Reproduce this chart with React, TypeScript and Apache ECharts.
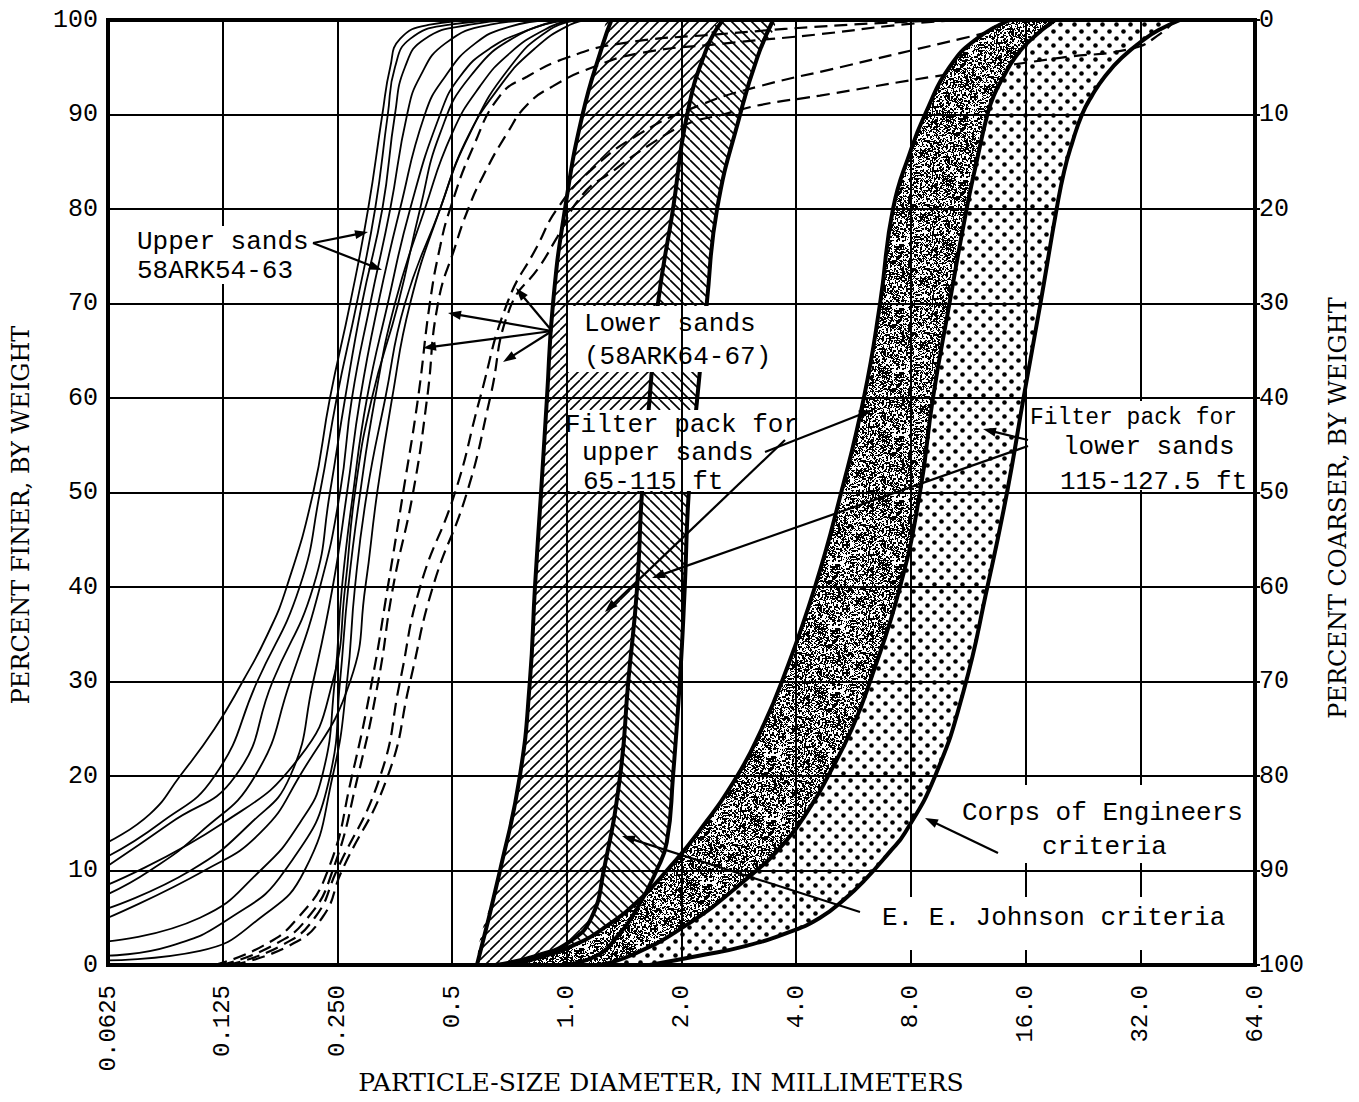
import React, { useEffect, useRef } from "react";
import * as echarts from "echarts";

// ---------- axis tick labels ----------
const X_TICK_LABELS = ["0.0625", "0.125", "0.250", "0.5", "1.0", "2.0", "4.0", "8.0", "16.0", "32.0", "64.0"];
const X_MIN_MM = 0.0625;
const X_MAX_MM = 64;

// ---------- Upper sands 58ARK54-63 (solid)  [diameter mm, percent finer] ----------
const upperSandA = [[0.0625, 13], [0.0806, 16], [0.0966, 20], [0.119, 25], [0.141, 30], [0.164, 35], [0.184, 40], [0.216, 50], [0.239, 60], [0.27, 70], [0.301, 80], [0.328, 90], [0.344, 95], [0.365, 98], [0.437, 99.5], [0.592, 100]];
const upperSandB = [[0.0625, 11.5], [0.0856, 15], [0.119, 20], [0.154, 30], [0.199, 40], [0.225, 50], [0.249, 60], [0.281, 70], [0.314, 80], [0.339, 90], [0.354, 95], [0.388, 98], [0.493, 99.5], [0.709, 100]];
const upperSandC = [[0.0625, 10.5], [0.0909, 15], [0.135, 20], [0.169, 30], [0.216, 40], [0.239, 50], [0.262, 60], [0.29, 70], [0.328, 80], [0.354, 90], [0.376, 95], [0.424, 98], [0.557, 99.5], [0.753, 100]];
const upperSandD = [[0.0625, 7.5], [0.0806, 10], [0.109, 14], [0.152, 20], [0.188, 30], [0.225, 40], [0.254, 50], [0.273, 60], [0.305, 70], [0.344, 80], [0.381, 90], [0.412, 94], [0.479, 97.5], [0.629, 99.5], [0.851, 100]];
const upperSandE = [[0.0625, 6], [0.103, 10], [0.148, 15], [0.188, 20], [0.216, 30], [0.243, 40], [0.265, 50], [0.287, 60], [0.32, 70], [0.365, 80], [0.424, 90], [0.479, 94], [0.574, 97.5], [0.709, 99.3], [0.903, 100]];
const upperSandF = [[0.0625, 2.5], [0.109, 5], [0.157, 10], [0.199, 15], [0.228, 20], [0.246, 30], [0.257, 40], [0.275, 50], [0.299, 60], [0.339, 70], [0.388, 80], [0.465, 90], [0.524, 94], [0.629, 97], [0.8, 99], [0.959, 100]];
const upperSandG = [[0.0625, 1], [0.0909, 2], [0.131, 5], [0.182, 10], [0.239, 20], [0.254, 30], [0.267, 40], [0.287, 50], [0.314, 60], [0.354, 70], [0.424, 80], [0.5, 88], [0.592, 93], [0.709, 96.5], [0.877, 99], [1.02, 100]];
const upperSandH = [[0.0625, 0.5], [0.109, 1.5], [0.157, 5], [0.205, 10], [0.243, 20], [0.265, 30], [0.278, 40], [0.299, 50], [0.334, 60], [0.376, 70], [0.465, 80], [0.54, 87], [0.668, 93], [0.825, 97], [1.02, 99.5], [1.15, 100]];
const upperSandI = [[0.0625, 5], [0.112, 10], [0.157, 14], [0.199, 20], [0.27, 30], [0.296, 40], [0.318, 50], [0.348, 60], [0.388, 70], [0.465, 80], [0.557, 88], [0.709, 95], [0.903, 99], [1.08, 100]];
const upperSandJ = [[0.0625, 8.5], [0.125, 15], [0.199, 22], [0.243, 30], [0.262, 40], [0.278, 50], [0.308, 60], [0.361, 70], [0.412, 80], [0.465, 88], [0.557, 94], [0.753, 98.5], [1.02, 100]];

// ---------- Lower sands 58ARK64-67 (dashed) ----------
const lowerSandA = [[0.119, 0], [0.159, 2], [0.197, 5], [0.236, 10], [0.273, 20], [0.308, 30], [0.339, 40], [0.372, 50], [0.407, 60], [0.437, 70], [0.465, 76], [0.494, 80], [0.567, 86.5], [0.668, 92], [0.786, 94], [1.0, 96], [1.38, 97.5], [2.52, 98.5], [5.54, 99.5], [10.1, 100]];
const lowerSandB = [[0.124, 0], [0.168, 2], [0.209, 5], [0.243, 10], [0.283, 20], [0.32, 30], [0.35, 40], [0.395, 50], [0.43, 60], [0.459, 70], [0.509, 76], [0.551, 80], [0.603, 83.5], [0.697, 88], [0.786, 91], [0.92, 93], [1.17, 95], [1.56, 96.5], [2.57, 97.5], [4.62, 98.5], [7.49, 99.5], [10.8, 100]];
const lowerSandC = [[0.129, 0], [0.177, 2], [0.218, 5], [0.249, 10], [0.324, 20], [0.365, 30], [0.412, 40], [0.509, 50], [0.592, 60], [0.697, 70], [0.835, 76], [0.943, 80], [1.15, 84], [1.56, 88], [2.24, 91], [3.21, 93], [5.22, 95], [7.49, 96.5], [10.8, 98], [13.7, 99], [17.5, 100]];
const lowerSandD = [[0.133, 0], [0.186, 2], [0.228, 5], [0.257, 10], [0.339, 20], [0.388, 30], [0.445, 40], [0.547, 50], [0.629, 60], [0.709, 69.5], [0.851, 74], [0.943, 77], [1.1, 81.5], [1.32, 84], [1.68, 87], [2.07, 89], [2.57, 90], [3.21, 91], [4.62, 92], [9.14, 94], [19.7, 96], [30.6, 97], [36.0, 98.5], [39.5, 100]];

// ---------- E. E. Johnson criteria (hatched bands) ----------
const johnsonUpperFine = [[0.581, 0], [0.668, 10], [0.753, 20], [0.8, 30], [0.825, 40], [0.856, 50], [0.887, 60], [0.92, 70], [0.989, 80], [1.1, 90], [1.245, 97.5], [1.31, 100]];
const johnsonMiddle = [[0.648, 0], [0.835, 1], [1.02, 2.5], [1.16, 5], [1.25, 10], [1.38, 20], [1.45, 30], [1.53, 40], [1.575, 50], [1.65, 60], [1.735, 70], [1.9, 80], [2.07, 90], [2.33, 97], [2.57, 100]];
const johnsonLowerCoarse = [[0.989, 0], [1.2, 1], [1.355, 3], [1.53, 6], [1.72, 10], [1.83, 13], [1.9, 20], [1.98, 30], [2.04, 40], [2.09, 50], [2.2, 60], [2.33, 70], [2.48, 80], [2.85, 90], [3.16, 96], [3.48, 100]];

// ---------- Corps of Engineers criteria (stippled bands) ----------
const corpsUpperFine = [[0.689, 0], [0.8, 0.5], [1.03, 2], [1.26, 4], [1.56, 7], [1.83, 10], [2.21, 14], [2.8, 20], [3.25, 25], [3.67, 30], [4.48, 40], [5.25, 50], [6.02, 60], [6.64, 70], [7.18, 80], [7.96, 86], [8.71, 90], [10.1, 95], [11.9, 98], [14.6, 100]];
const corpsMiddle = [[1.22, 0], [1.47, 1], [2.02, 4], [2.94, 9], [3.74, 13], [4.4, 17], [4.85, 20], [5.6, 25], [6.25, 30], [7.49, 40], [8.45, 50], [9.14, 60], [10.1, 70], [11.2, 80], [11.9, 85], [12.7, 90], [13.2, 92], [14.0, 94], [15.0, 96], [16.6, 98], [19.1, 100]];
const corpsLowerCoarse = [[1.65, 0], [2.24, 1], [2.94, 2], [3.85, 3.5], [4.62, 5], [5.37, 7], [6.06, 9], [7.05, 12], [7.72, 14], [9.26, 20], [11.0, 29], [12.7, 40], [14.3, 50], [15.8, 60], [17.5, 70], [19.3, 80], [20.2, 84], [21.2, 87], [22.5, 90], [23.9, 92], [25.8, 94], [28.6, 96], [32.9, 98], [36.0, 99], [40.7, 100]];

const UPPER_SANDS = [upperSandA, upperSandB, upperSandC, upperSandD, upperSandE, upperSandF, upperSandG, upperSandH, upperSandI, upperSandJ];
const LOWER_SANDS = [lowerSandA, lowerSandB, lowerSandC, lowerSandD];

// ---------- helpers ----------
const MONO = '"Liberation Mono", "DejaVu Sans Mono", monospace';
const SERIF = '"DejaVu Serif", "Liberation Serif", serif';
const SMOOTH = 0.5;

const toXY = (pts: number[][]) => pts.map(([mm, p]) => [Math.log2(mm), p]);

function makeCanvas(w: number, h: number) {
  const c = document.createElement("canvas");
  c.width = w;
  c.height = h;
  const ctx = c.getContext("2d") as CanvasRenderingContext2D;
  ctx.fillStyle = "#fff";
  ctx.fillRect(0, 0, w, h);
  return { c, ctx };
}

function hatchPattern(size: number, dir: number) {
  const { c, ctx } = makeCanvas(size, size);
  ctx.strokeStyle = "#000";
  ctx.lineWidth = 1.6;
  ctx.beginPath();
  for (const k of [-size, 0, size]) {
    if (dir > 0) {
      ctx.moveTo(k, size);
      ctx.lineTo(k + size, 0);
    } else {
      ctx.moveTo(k, 0);
      ctx.lineTo(k + size, size);
    }
  }
  ctx.stroke();
  return { image: c.toDataURL(), repeat: "repeat", imageWidth: size, imageHeight: size };
}

function speckleTexture(size: number) {
  const { c, ctx } = makeCanvas(size, size);
  const img = ctx.createImageData(size, size);
  const frac = (v: number) => v - Math.floor(v);
  for (let y = 0; y < size; y++) {
    for (let x = 0; x < size; x++) {
      const a = frac(Math.sin(x * 12.9898 + y * 78.233) * 43758.5453);
      const b = frac(Math.sin(Math.floor(x / 2) * 39.346 + Math.floor(y / 2) * 11.135) * 24634.6345);
      const v = 0.5 * a + 0.5 * b < 0.5 ? 0 : 255;
      const i = (y * size + x) * 4;
      img.data[i] = v;
      img.data[i + 1] = v;
      img.data[i + 2] = v;
      img.data[i + 3] = 255;
    }
  }
  ctx.putImageData(img, 0, 0);
  return { image: c.toDataURL(), repeat: "repeat", imageWidth: size, imageHeight: size };
}

function dotPattern(size: number) {
  const { c, ctx } = makeCanvas(size, size);
  ctx.fillStyle = "#000";
  for (const [x, y] of [[size / 4, size / 4], [(3 * size) / 4, (3 * size) / 4]]) {
    ctx.beginPath();
    ctx.arc(x, y, 2.3, 0, Math.PI * 2);
    ctx.fill();
  }
  return { image: c.toDataURL(), repeat: "repeat", imageWidth: size, imageHeight: size };
}

function bandSeries(name: string, left: number[][], right: number[][], fill: any, z: number) {
  const pts = [...toXY(left), ...toXY(right).reverse()];
  return {
    name,
    type: "custom",
    coordinateSystem: "cartesian2d",
    xAxisIndex: 0,
    yAxisIndex: 0,
    z,
    clip: true,
    silent: true,
    data: pts,
    encode: { x: 0, y: 1 },
    renderItem: (params: any, api: any) => {
      if (params.dataIndex !== 0) return null;
      return {
        type: "polygon",
        shape: { points: pts.map((p) => api.coord(p)), smooth: SMOOTH },
        style: { fill, stroke: "none" },
      };
    },
  };
}

function curveSeries(name: string, pts: number[][], width: number, type: any, z: number) {
  return {
    name,
    type: "line",
    data: toXY(pts),
    symbol: "none",
    showSymbol: false,
    smooth: SMOOTH,
    silent: true,
    z,
    lineStyle: { color: "#000", width, type },
  };
}

function arrow(x1: number, y1: number, x2: number, y2: number) {
  const dx = x2 - x1;
  const dy = y2 - y1;
  const L = Math.hypot(dx, dy);
  const ux = dx / L;
  const uy = dy / L;
  const hl = 13;
  const hw = 4.5;
  const bx = x2 - ux * hl;
  const by = y2 - uy * hl;
  return [
    { type: "line", z: 12, silent: true, shape: { x1, y1, x2: bx + ux * 2, y2: by + uy * 2 }, style: { stroke: "#000", lineWidth: 2.2 } },
    {
      type: "polygon",
      z: 12,
      silent: true,
      shape: { points: [[x2, y2], [bx - uy * hw, by + ux * hw], [bx + uy * hw, by - ux * hw]] },
      style: { fill: "#000" },
    },
  ];
}

function label(text: string, x: number, y: number, size = 26, family = MONO, align = "left", rotation = 0) {
  return {
    type: "text",
    z: 13,
    silent: true,
    x,
    y,
    rotation,
    style: {
      text,
      fill: "#000",
      font: `${size}px ${family}`,
      align,
      verticalAlign: "middle",
      textAlign: align,
      textVerticalAlign: "middle",
    },
  };
}

function box(x: number, y: number, w: number, h: number, z: number) {
  return { type: "rect", z, silent: true, shape: { x, y, width: w, height: h }, style: { fill: "#fff" } };
}

function buildOption() {
  const hatchUp = hatchPattern(10, 1);
  const hatchDown = hatchPattern(10, -1);
  const speckle = speckleTexture(64);
  const dots = dotPattern(14);

  const lnMin = Math.log2(X_MIN_MM);
  const lnMax = Math.log2(X_MAX_MM);

  const series: any[] = [
    bandSeries("Johnson upper", johnsonUpperFine, johnsonMiddle, hatchUp, 1),
    bandSeries("Johnson lower", johnsonMiddle, johnsonLowerCoarse, hatchDown, 1),
    bandSeries("Corps lower", corpsMiddle, corpsLowerCoarse, dots, 1),
  ];
  UPPER_SANDS.forEach((s, i) => series.push(curveSeries("Upper sand " + i, s, 1.8, "solid", 2)));
  LOWER_SANDS.forEach((s, i) => series.push(curveSeries("Lower sand " + i, s, 2.2, [13, 7], 2)));
  series.push(bandSeries("Corps upper", corpsUpperFine, corpsMiddle, speckle, 3));
  [johnsonUpperFine, johnsonMiddle, johnsonLowerCoarse, corpsUpperFine, corpsMiddle, corpsLowerCoarse].forEach((s, i) =>
    series.push(curveSeries("Boundary " + i, s, 4, "solid", 4))
  );

  const elements: any[] = [
    // boxes that hide the grid
    box(133, 226, 183, 58, 10),
    box(1028, 401, 224, 89, 10),
    box(950, 785, 302, 78, 10),
    box(868, 897, 384, 53, 10),
    // boxes that only hide the hatching
    box(567, 306, 233, 66, 7),
    box(566, 410, 232, 81, 7),

    label("Upper sands", 137, 242),
    label("58ARK54-63", 137, 271),
    label("Lower sands", 584, 324),
    label("(58ARK64-67)", 584, 357),
    label("Filter pack for", 565, 425),
    label("upper sands", 582, 453),
    label("65-115 ft", 583, 482),
    label("Filter pack for", 1030, 418, 23),
    label("lower sands", 1063, 447),
    label("115-127.5 ft", 1060, 482),
    label("Corps of Engineers", 962, 813),
    label("criteria", 1042, 847),
    label("E. E. Johnson criteria", 882, 918),

    label("PERCENT FINER, BY WEIGHT", 21, 515, 24, SERIF, "center", Math.PI / 2),
    label("PERCENT COARSER, BY WEIGHT", 1338, 508, 24, SERIF, "center", Math.PI / 2),
    label("PARTICLE-SIZE DIAMETER, IN MILLIMETERS", 661, 1082, 25, SERIF, "center"),

    ...arrow(313, 243, 368, 232),
    ...arrow(313, 243, 382, 270),
    ...arrow(552, 331, 448, 313),
    ...arrow(552, 331, 423, 348),
    ...arrow(552, 331, 516, 288),
    ...arrow(552, 331, 503, 362),
    ...arrow(785, 440, 605, 612),
    ...arrow(765, 452, 872, 410),
    ...arrow(1028, 440, 983, 429),
    ...arrow(1028, 446, 652, 578),
    ...arrow(998, 853, 925, 818),
    ...arrow(860, 912, 622, 836),
  ];

  return {
    animation: false,
    backgroundColor: "#fff",
    grid: {
      left: 108,
      right: 104,
      top: 20,
      bottom: 137,
      show: true,
      borderColor: "#000",
      borderWidth: 4,
      backgroundColor: "transparent",
      z: 9,
      containLabel: false,
      outerBoundsMode: "none",
    },
    xAxis: [
      {
        type: "value",
        min: lnMin,
        max: lnMax,
        interval: 1,
        z: 8,
        axisLine: { show: false },
        axisTick: { show: false },
        splitLine: { show: true, lineStyle: { color: "#000", width: 2 } },
        axisLabel: {
          rotate: 90,
          margin: 20,
          fontFamily: MONO,
          fontSize: 24,
          color: "#000",
          showMinLabel: true,
          showMaxLabel: true,
          formatter: (v: number) => X_TICK_LABELS[Math.round(v - lnMin)] ?? "",
        },
      },
    ],
    yAxis: [
      {
        type: "value",
        position: "left",
        min: 0,
        max: 100,
        interval: 10,
        z: 8,
        axisLine: { show: false },
        axisTick: { show: false },
        splitLine: { show: true, lineStyle: { color: "#000", width: 2 } },
        axisLabel: { margin: 10, fontFamily: MONO, fontSize: 25, color: "#000" },
      },
      {
        type: "value",
        position: "right",
        min: 0,
        max: 100,
        interval: 10,
        inverse: true,
        z: 8,
        axisLine: { show: false },
        axisTick: { show: true, length: 5, lineStyle: { color: "#000", width: 2 } },
        splitLine: { show: false },
        axisLabel: { margin: 4, fontFamily: MONO, fontSize: 25, color: "#000" },
      },
    ],
    series,
    graphic: { elements },
  };
}

export default function App() {
  const ref = useRef<HTMLDivElement>(null);
  useEffect(() => {
    if (!ref.current) return;
    const chart = echarts.init(ref.current, null, { renderer: "svg" });
    chart.setOption(buildOption() as any);
    return () => chart.dispose();
  }, []);
  return (
    <div
      ref={ref}
      style={{ position: "absolute", left: 0, top: 0, width: 1359, height: 1102, background: "#fff" }}
    />
  );
}
